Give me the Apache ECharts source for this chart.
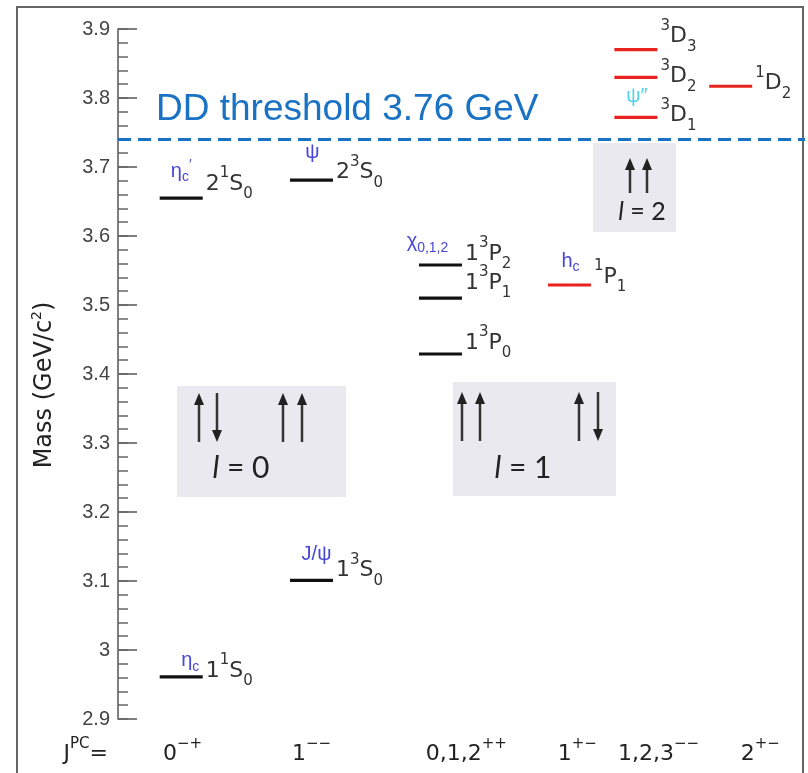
<!DOCTYPE html>
<html><head><meta charset="utf-8">
<script src="https://cdn.jsdelivr.net/npm/echarts@6/dist/echarts.min.js"></script>
<style>html,body{margin:0;padding:0;background:#fff}#c{width:808px;height:773px}</style>
</head><body><div id="c"></div>
<script>
// ---------------- data ----------------
const jpcLabels = ['0^{−+}', '1^{−−}', '0,1,2^{++}', '1^{+−}', '1,2,3^{−−}', '2^{+−}'];
const jpcTickPos = [0.5, 1.5, 2.7, 3.56, 4.19, 4.98];
const columnPos = [0.49, 1.5, 2.5, 3.5, 4.015, 4.75];
const levelNames = ['1^1S_0', '2^1S_0', '1^3S_0', '2^3S_0', '1^3P_0', '1^3P_1', '1^3P_2', '^1P_1', '^3D_1', '^3D_2', '^3D_3', '^1D_2'];
const levelColumn = [0, 0, 1, 1, 2, 2, 2, 3, 4, 4, 4, 5];
const levelMass = [2.961, 3.655, 3.101, 3.681, 3.429, 3.510, 3.558, 3.529, 3.772, 3.830, 3.870, 3.817];
const particleNames = ['η_c', 'η_c^′', 'J/ψ', 'ψ', '', '', 'χ_{0,1,2}', 'h_c', 'ψ″', '', '', ''];
const thresholdMass = 3.737;
const thresholdLabel = 'DD threshold 3.76 GeV';
const massAxisName = 'Mass (GeV/c^2)';
const jpcAxisName = 'J^{PC}=';
const yMin = 2.9, yMax = 3.9, yStep = 0.1, yMinorStep = 0.02;
const spinBoxes = [
  {label: '0', arrows: ['up', 'down', 'up', 'up']},
  {label: '1', arrows: ['up', 'up', 'up', 'down']},
  {label: '2', arrows: ['up', 'up']}
];

// ---------------- layout / style ----------------
const FONT = '"Liberation Sans", Arial, sans-serif';
const WFONT = '"DejaVu Sans", sans-serif';
const BLUE = '#4747d6', CYAN = '#52d2e6', DARK = '#333';
const BAR_HALF = 21.5;
const nameDy = [-6, -14, -10, -8, -11, -15, -11, -8, -2, -1, -13, -3];
const particleOffset = [[9, -16], [0, -27], [5, -26], [1, -28], null, null, [-13, -23], [1, -24], [1, -21], null, null, null];
const particleColor = [BLUE, BLUE, BLUE, BLUE, '', '', BLUE, BLUE, CYAN, '', '', ''];
const levelColor = levelColumn.map(c => c >= 3 ? '#e8231e' : '#111');

function toRich(s, mk, uk, dk) {
  let out = '', i = 0;
  while (i < s.length) {
    const ch = s[i];
    if (ch === '^' || ch === '_') {
      let t;
      if (s[i + 1] === '{') { const j = s.indexOf('}', i); t = s.slice(i + 2, j); i = j + 1; }
      else { t = s[i + 1]; i += 2; }
      out += '{' + (ch === '^' ? uk : dk) + '|' + t + '}';
    } else {
      let j = i;
      while (j < s.length && s[j] !== '^' && s[j] !== '_') j++;
      out += '{' + mk + '|' + s.slice(i, j) + '}';
      i = j;
    }
  }
  return out;
}

const nameRich = {
  m: {fontSize: 22, lineHeight: 36, fill: DARK, fontFamily: WFONT},
  u: {fontSize: 15, lineHeight: 16, verticalAlign: 'top', fill: DARK, fontFamily: WFONT},
  d: {fontSize: 15, lineHeight: 16, verticalAlign: 'bottom', fill: DARK, fontFamily: WFONT}
};
function particleRich(col) {
  return {
    m: {fontSize: 20, lineHeight: 26, fill: col, fontFamily: FONT},
    u: {fontSize: 14, lineHeight: 12, verticalAlign: 'top', fill: col, fontFamily: FONT},
    d: {fontSize: 14, lineHeight: 12, verticalAlign: 'bottom', fill: col, fontFamily: FONT}
  };
}
const jpcRich = {
  m: {fontSize: 22, lineHeight: 34, color: '#222', fontFamily: WFONT},
  u: {fontSize: 15, lineHeight: 12, verticalAlign: 'top', color: '#222', fontFamily: WFONT}
};

const levelData = levelMass.map((m, i) => [columnPos[levelColumn[i]], m, i]);

function renderLevel(params, api) {
  const i = api.value(2);
  const c = api.coord([api.value(0), api.value(1)]);
  const children = [
    {type: 'line', shape: {x1: c[0] - BAR_HALF, y1: c[1], x2: c[0] + BAR_HALF, y2: c[1]},
     style: {stroke: levelColor[i], lineWidth: 3.2}},
    {type: 'text', x: c[0] + BAR_HALF + 3, y: c[1] + nameDy[i],
     style: {text: toRich(levelNames[i], 'm', 'u', 'd'), rich: nameRich, align: 'left', verticalAlign: 'middle', fill: DARK}}
  ];
  if (particleNames[i]) {
    const o = particleOffset[i];
    children.push({type: 'text', x: c[0] + o[0], y: c[1] + o[1],
      style: {text: toRich(particleNames[i], 'm', 'u', 'd'), rich: particleRich(particleColor[i]), align: 'center', verticalAlign: 'middle', fill: particleColor[i]}});
  }
  return {type: 'group', children};
}

// annotation graphics (spin boxes, frame)
const BOX_FILL = '#e9e9ef';
const boxRects = [[177, 386, 169, 111], [453, 382, 163, 114], [593, 143, 83, 89]];
const arrowX = [[199, 217, 283, 302], [462, 480, 579, 598], [630, 647]];
const arrowY = [[393, 442], [392, 441], [158, 193]];
const lTextPos = [[241, 468, 30], [523, 468, 30], [642, 212, 25]];

function arrow(x, y0, y1, dir) {
  const headH = 12, headW = 10;
  const els = [];
  if (dir === 'up') {
    els.push({type: 'line', shape: {x1: x, y1: y0 + headH - 2, x2: x, y2: y1}, style: {stroke: '#333', lineWidth: 2.5}});
    els.push({type: 'polygon', shape: {points: [[x, y0], [x - headW / 2, y0 + headH], [x + headW / 2, y0 + headH]]}, style: {fill: '#222'}});
  } else {
    els.push({type: 'line', shape: {x1: x, y1: y0, x2: x, y2: y1 - headH + 2}, style: {stroke: '#333', lineWidth: 2.5}});
    els.push({type: 'polygon', shape: {points: [[x, y1], [x - headW / 2, y1 - headH], [x + headW / 2, y1 - headH]]}, style: {fill: '#222'}});
  }
  return els;
}

const graphics = [
  {type: 'rect', shape: {x: 17, y: 7, width: 786, height: 820}, style: {fill: 'none', stroke: '#666', lineWidth: 2}, silent: true}
];
spinBoxes.forEach((b, k) => {
  const r = boxRects[k];
  graphics.push({type: 'rect', shape: {x: r[0], y: r[1], width: r[2], height: r[3]}, style: {fill: BOX_FILL}, silent: true});
  b.arrows.forEach((d, j) => arrow(arrowX[k][j], arrowY[k][0], arrowY[k][1], d).forEach(e => graphics.push(e)));
  const t = lTextPos[k];
  graphics.push({type: 'text', x: t[0], y: t[1], style: {
    text: '{i|l}{n| = ' + b.label + '}', align: 'center', verticalAlign: 'middle',
    rich: {i: {fontSize: t[2], fontStyle: 'italic', fontFamily: 'Lato', fill: '#222'},
           n: {fontSize: t[2], fontFamily: 'Lato', fill: '#222'}}}});
});

const chart = echarts.init(document.getElementById('c'), null, {renderer: 'canvas'});
chart.setOption({
  animation: false,
  backgroundColor: '#fff',
  grid: {left: 118, right: 3, top: 29, bottom: 54, containLabel: false, outerBoundsMode: 'none'},
  xAxis: {
    type: 'value', min: 0, max: 5.326,
    axisLine: {show: false}, axisTick: {show: false}, splitLine: {show: false},
    axisLabel: {
      customValues: jpcTickPos, margin: 18, showMinLabel: true, showMaxLabel: true,
      formatter: v => { const k = jpcTickPos.findIndex(p => Math.abs(p - v) < 1e-6); return k < 0 ? '' : toRich(jpcLabels[k], 'm', 'u', 'u'); },
      rich: jpcRich
    },
    name: toRich(jpcAxisName, 'm', 'u', 'u'), nameLocation: 'start', nameGap: 10,
    nameTextStyle: {align: 'right', verticalAlign: 'top', padding: [18, 0, 0, 0], rich: jpcRich}
  },
  yAxis: [{
    type: 'value', min: yMin, max: yMax, interval: yStep, position: 'left',
    axisLine: {show: true, lineStyle: {color: '#555', width: 1.5}},
    axisTick: {show: true, inside: true, length: 19, lineStyle: {color: '#555', width: 1.5}},
    splitLine: {show: false},
    axisLabel: {fontSize: 20, color: '#444', margin: 8, fontFamily: FONT},
    name: toRich(massAxisName, 'm', 'u', 'u'), nameLocation: 'middle', nameRotate: 90, nameGap: 58,
    nameTextStyle: {padding: [0, 22, 0, 0], rich: {
      m: {fontSize: 24, lineHeight: 30, color: '#222', fontFamily: WFONT},
      u: {fontSize: 14, lineHeight: 14, verticalAlign: 'top', color: '#222', fontFamily: WFONT}}}
  }, {
    type: 'value', min: yMin, max: yMax, interval: yMinorStep, position: 'left', offset: 0,
    axisLine: {show: false},
    axisTick: {show: true, inside: true, length: 10, lineStyle: {color: '#666', width: 1.5}},
    axisLabel: {show: false}, splitLine: {show: false}
  }],
  graphic: graphics,
  series: [
    {type: 'custom', renderItem: renderLevel, data: levelData, encode: {x: 0, y: 1}, yAxisIndex: 0, z: 5},
    {type: 'line', data: [], yAxisIndex: 0, markLine: {
      silent: true, symbol: ['none', 'none'],
      lineStyle: {color: '#1a72c4', width: 3, type: [13, 7]},
      label: {show: true, position: 'insideStartTop', distance: [38, 11], formatter: thresholdLabel,
              fontSize: 37, lineHeight: 37, color: '#1a72c4', fontFamily: FONT},
      data: [{yAxis: thresholdMass}]
    }}
  ]
});
</script></body></html>
